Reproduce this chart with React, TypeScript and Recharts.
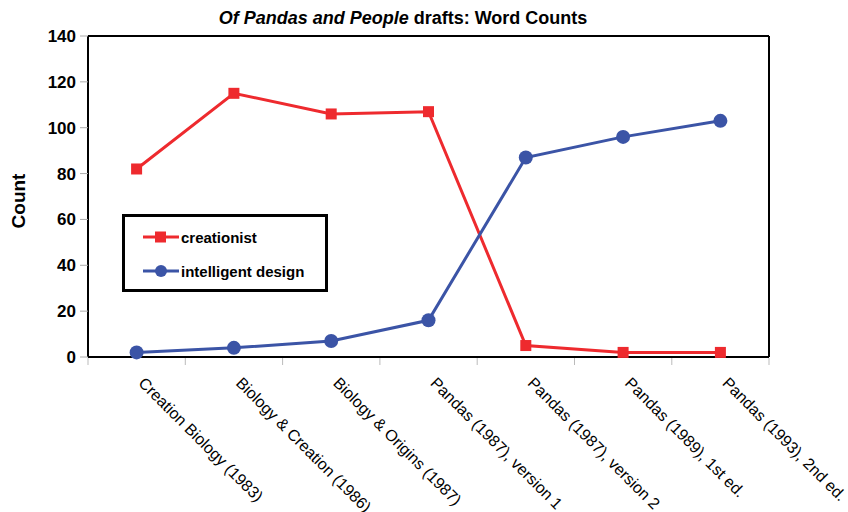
import React from "react";
import { LineChart, Line, XAxis, YAxis, Legend } from "recharts";

const categories = [
  "Creation Biology (1983)",
  "Biology & Creation (1986)",
  "Biology & Origins (1987)",
  "Pandas (1987), version 1",
  "Pandas (1987), version 2",
  "Pandas (1989), 1st ed.",
  "Pandas (1993), 2nd ed.",
];
const creationist = [82, 115, 106, 107, 5, 2, 2];
const intelligentDesign = [2, 4, 7, 16, 87, 96, 103];
const yTicks = [0, 20, 40, 60, 80, 100, 120, 140];

const RED = "#ee2a2e";
const BLUE = "#3b54a6";
const FONT = "'Liberation Sans', Arial, sans-serif";
const HALF_BAND = 48.6;

const data = categories.map((name, i) => ({
  name,
  creationist: creationist[i],
  intelligent: intelligentDesign[i],
}));

function SquareDot(props: any) {
  const { cx, cy } = props;
  return <rect key={props.key ?? `sq-${props.index}`} x={cx - 5.5} y={cy - 5.5} width={11} height={11} fill={RED} />;
}

function CategoryTick(props: any) {
  const { x, y, payload, index } = props;
  const tx = x + 1;
  const ty = y + 27;
  return (
    <g>
      <line x1={x - HALF_BAND} y1={y + 1} x2={x - HALF_BAND} y2={y + 8} stroke="#bbb" />
      {index === categories.length - 1 && (
        <line x1={x + HALF_BAND} y1={y + 1} x2={x + HALF_BAND} y2={y + 8} stroke="#bbb" />
      )}
      <text
        x={tx}
        y={ty}
        transform={`rotate(45 ${tx} ${ty})`}
        textAnchor="start"
        fontFamily={FONT}
        fontSize={16}
        fill="#000"
      >
        {payload.value}
      </text>
    </g>
  );
}

function LegendBox() {
  const row = (label: string, color: string, square: boolean) => (
    <div style={{ display: "flex", alignItems: "center", height: 34 }}>
      <svg width={36} height={14} style={{ marginRight: 2 }}>
        <line x1={0} y1={7} x2={36} y2={7} stroke={color} strokeWidth={3} />
        {square ? (
          <rect x={12} y={1.5} width={11} height={11} fill={color} />
        ) : (
          <circle cx={18} cy={7} r={6} fill={color} />
        )}
      </svg>
      <span>{label}</span>
    </div>
  );
  return (
    <div
      style={{
        border: "3px solid #000",
        boxSizing: "border-box",
        width: 206,
        height: 78,
        padding: "3px 0 0 18px",
        fontFamily: FONT,
        fontWeight: "bold",
        fontSize: 15,
        background: "#fff",
      }}
    >
      {row("creationist", RED, true)}
      {row("intelligent design", BLUE, false)}
    </div>
  );
}

export default function App() {
  return (
    <div style={{ position: "absolute", left: 0, top: 0, width: 848, height: 512, background: "#fff" }}>
      <div
        style={{
          position: "absolute",
          left: 0,
          top: 8,
          width: 806,
          textAlign: "center",
          fontFamily: FONT,
          fontWeight: "bold",
          fontSize: 18,
        }}
      >
        <i>Of Pandas and People</i> drafts: Word Counts
      </div>
      <LineChart width={848} height={512} data={data} margin={{ top: 35, right: 78, bottom: 0, left: 0 }}>
        <XAxis
          dataKey="name"
          interval={0}
          height={155}
          padding={{ left: HALF_BAND, right: HALF_BAND }}
          tickLine={false}
          tickSize={0}
          tickMargin={0}
          axisLine={{ stroke: "#000", strokeWidth: 2 }}
          tick={<CategoryTick />}
        />
        <XAxis
          xAxisId="top"
          dataKey="name"
          orientation="top"
          height={1}
          tick={false}
          tickLine={false}
          padding={{ left: HALF_BAND, right: HALF_BAND }}
          axisLine={{ stroke: "#000", strokeWidth: 2 }}
        />
        <YAxis
          domain={[0, 140]}
          ticks={yTicks}
          width={88}
          tickSize={8}
          tickMargin={4}
          tickLine={{ stroke: "#aaa" }}
          axisLine={{ stroke: "#000", strokeWidth: 2 }}
          tick={{ fill: "#000", fontSize: 17, fontWeight: "bold", fontFamily: FONT }}
          label={{
            content: () => (
              <text
                x={25}
                y={201}
                transform="rotate(-90 25 201)"
                textAnchor="middle"
                fontFamily={FONT}
                fontWeight="bold"
                fontSize={19}
                fill="#000"
              >
                Count
              </text>
            ),
          }}
        />
        <YAxis
          yAxisId="right"
          orientation="right"
          width={1}
          domain={[0, 140]}
          tick={false}
          tickLine={false}
          axisLine={{ stroke: "#000", strokeWidth: 2 }}
        />
        <Legend
          layout="horizontal"
          verticalAlign="middle"
          align="center"
          content={() => <LegendBox />}
          wrapperStyle={{ position: "absolute", left: 122, top: 214, width: 206, height: 78 }}
        />
        <Line
          type="linear"
          dataKey="creationist"
          stroke={RED}
          strokeWidth={3}
          dot={<SquareDot />}
          activeDot={false}
          isAnimationActive={false}
        />
        <Line
          type="linear"
          dataKey="intelligent"
          stroke={BLUE}
          strokeWidth={3}
          dot={{ r: 7, fill: BLUE, stroke: BLUE, strokeWidth: 0 }}
          activeDot={false}
          isAnimationActive={false}
        />
      </LineChart>
    </div>
  );
}
